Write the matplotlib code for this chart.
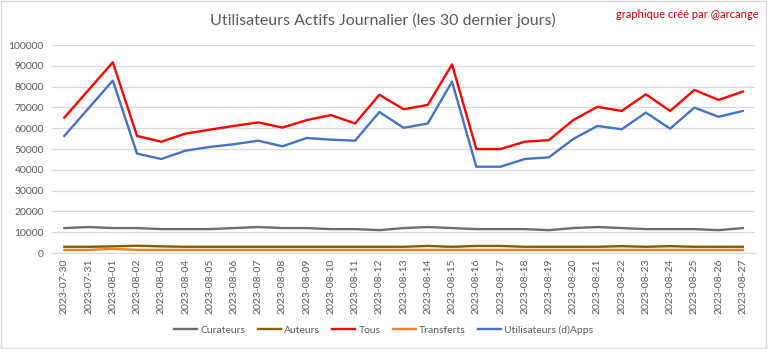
import matplotlib.pyplot as plt
import matplotlib.patches as patches

dates = ['2023-07-30', '2023-07-31'] + ['2023-08-%02d' % d for d in range(1, 28)]

curateurs = [12000, 12500, 12000, 12000, 11500, 11500, 11500, 12000, 12500, 12000,
             12000, 11500, 11500, 11000, 12000, 12500, 12000, 11500, 11500, 11500,
             11000, 12000, 12500, 12000, 11500, 11500, 11500, 11000, 12000]
auteurs = [3000, 3000, 3200, 3500, 3200, 3000, 3000, 3000, 3000, 3000,
           3000, 3000, 3000, 3000, 3000, 3400, 3000, 3400, 3400, 3000,
           3000, 3000, 3000, 3300, 3000, 3300, 3000, 3000, 3000]
tous = [65100, 78400, 91700, 56300, 53500, 57400, 59300, 61100, 62800, 60300,
        63900, 66300, 62300, 76100, 69100, 71200, 90700, 50000, 50000, 53500,
        54300, 63900, 70300, 68300, 76300, 68300, 78400, 73600, 77600]
transferts = [1500, 1500, 2000, 1500, 1500, 1500, 1500, 1500, 1500, 1500,
              1500, 1500, 1500, 1500, 1500, 1500, 1500, 1500, 1500, 1500,
              1500, 1500, 1500, 1500, 1500, 1500, 1500, 1500, 1500]
dapps = [56300, 69600, 82900, 47800, 45200, 49200, 51000, 52300, 54000, 51300,
         55300, 54500, 54000, 67800, 60200, 62300, 82400, 41500, 41500, 45200,
         46000, 54800, 61100, 59500, 67500, 59800, 69900, 65500, 68300]

series = [
    ('Curateurs', curateurs, '#6f6f6f'),
    ('Auteurs', auteurs, '#7f6000'),
    ('Tous', tous, '#ff0000'),
    ('Transferts', transferts, '#ed7d31'),
    ('Utilisateurs (d)Apps', dapps, '#4472c4'),
]

plt.rcParams['font.family'] = ['Lato', 'DejaVu Sans']

fig = plt.figure(figsize=(7.68, 3.49), dpi=100)
ax = fig.add_axes([0.068, 0.275, 0.915, 0.596])

x = list(range(len(dates)))
for name, vals, col in series:
    ax.plot(x, vals, color=col, lw=1.7, label=name)

ax.set_xlim(-0.5, len(dates) - 0.5)
ax.set_ylim(0, 100000)
ax.set_yticks(range(0, 100001, 10000))
ax.yaxis.grid(True, color='#d9d9d9', lw=0.9)
ax.set_axisbelow(True)
ax.set_xticks(x)
ax.set_xticklabels(dates, rotation=90, fontsize=7.5, color='#595959')
ax.tick_params(axis='y', labelsize=7.5, labelcolor='#595959', length=0, pad=6)
ax.tick_params(axis='x', length=0, pad=4)
for s in ['top', 'right', 'left']:
    ax.spines[s].set_visible(False)
ax.spines['bottom'].set_color('#d9d9d9')

fig.text(0.499, 0.94, 'Utilisateurs Actifs Journalier (les 30 dernier jours)',
         ha='center', va='center', fontsize=11.5, color='#595959')
fig.text(0.987, 0.958, 'graphique créé par @arcange', ha='right', va='center',
         fontsize=8, color='#c00000')

fig.legend(loc='center', bbox_to_anchor=(0.5, 0.055), ncol=5, frameon=False,
           fontsize=7.5, handlelength=2.2, handletextpad=0.3, columnspacing=1.2,
           labelcolor='#595959')

fig.patches.append(patches.Rectangle((0.001, 0.002), 0.997, 0.995, transform=fig.transFigure,
                                     fill=False, edgecolor='#d9d9d9', lw=1))

fig.savefig('out.png', dpi=100)
